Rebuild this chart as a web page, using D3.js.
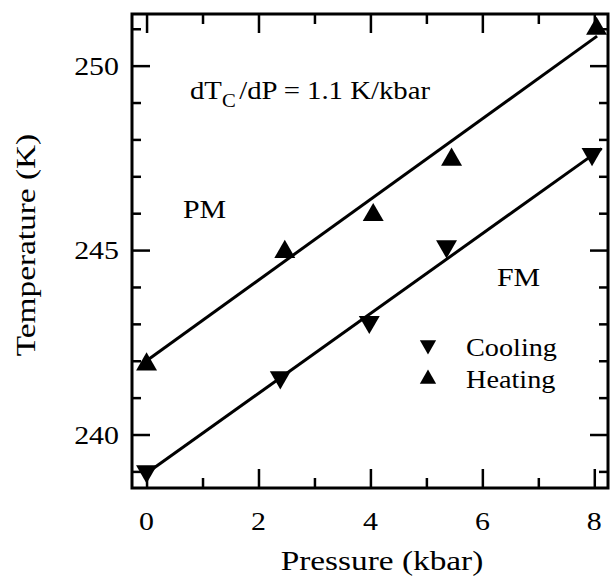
<!DOCTYPE html>
<html>
<head>
<meta charset="utf-8">
<script src="https://cdn.jsdelivr.net/npm/d3@7"></script>
<style>
  html, body { margin: 0; padding: 0; background: #fff; }
  svg { display: block; }
  text { font-family: "Liberation Serif", "Times New Roman", serif; fill: #000; }
</style>
</head>
<body>
<svg id="chart" width="613" height="576"></svg>
<script>
// ---- data ----
const heatP = [0, 2.47, 4.05, 5.45, 8.04];
const heatT = [241.9, 244.95, 245.95, 247.45, 251.0];
const coolP = [0, 2.39, 3.98, 5.36, 7.96];
const coolT = [239.0, 241.55, 243.05, 245.1, 247.6];
const heatFitP = [0, 8.05];
const heatFitT = [242.0, 250.8];
const coolFitP = [0, 8.13];
const coolFitT = [238.95, 247.75];
const xMajorTicks = [0, 2, 4, 6, 8];
const xMinorTicks = [1, 3, 5, 7];
const yMajorTicks = [240, 245, 250];
const yMinorTicks = [239, 241, 242, 243, 244, 246, 247, 248, 249, 251];
const xTitle = "Pressure (kbar)";
const yTitle = "Temperature (K)";
const legendLabels = ["Cooling", "Heating"];

// ---- layout ----
const L = 132, R = 608, T = 14, B = 488;
const svg = d3.select("#chart");
const x = d3.scaleLinear().domain([-0.26, 8.245]).range([L, R]);
const y = d3.scaleLinear().domain([238.55, 251.4]).range([B, T]);

function stext(g, px, py, str, size, stretch, anchor, rot) {
  return g.append("text")
    .attr("transform", `translate(${px},${py}) rotate(${rot || 0}) scale(${stretch},1)`)
    .attr("text-anchor", anchor || "start")
    .style("font-size", size + "px")
    .text(str);
}

// ---- axes (ticks inward on all four sides) ----
const tickW = 2.5;
function styleAxis(g) {
  g.select(".domain").remove();
  g.selectAll(".tick line").attr("stroke", "#000").attr("stroke-width", tickW);
}
// bottom
svg.append("g").attr("transform", `translate(0,${B})`)
  .call(d3.axisTop(x).tickValues(xMajorTicks).tickSize(19).tickFormat(""))
  .call(styleAxis);
svg.append("g").attr("transform", `translate(0,${B})`)
  .call(d3.axisTop(x).tickValues(xMinorTicks).tickSize(10).tickFormat(""))
  .call(styleAxis);
// top
svg.append("g").attr("transform", `translate(0,${T})`)
  .call(d3.axisBottom(x).tickValues(xMajorTicks).tickSize(19).tickFormat(""))
  .call(styleAxis);
svg.append("g").attr("transform", `translate(0,${T})`)
  .call(d3.axisBottom(x).tickValues(xMinorTicks).tickSize(10).tickFormat(""))
  .call(styleAxis);
// left
svg.append("g").attr("transform", `translate(${L},0)`)
  .call(d3.axisRight(y).tickValues(yMajorTicks).tickSize(18).tickFormat(""))
  .call(styleAxis);
svg.append("g").attr("transform", `translate(${L},0)`)
  .call(d3.axisRight(y).tickValues(yMinorTicks).tickSize(9).tickFormat(""))
  .call(styleAxis);
// right
svg.append("g").attr("transform", `translate(${R},0)`)
  .call(d3.axisLeft(y).tickValues(yMajorTicks).tickSize(18).tickFormat(""))
  .call(styleAxis);
svg.append("g").attr("transform", `translate(${R},0)`)
  .call(d3.axisLeft(y).tickValues(yMinorTicks).tickSize(9).tickFormat(""))
  .call(styleAxis);

// frame
svg.append("rect").attr("x", L).attr("y", T).attr("width", R - L).attr("height", B - T)
  .attr("fill", "none").attr("stroke", "#000").attr("stroke-width", 3);

// tick labels
const labels = svg.append("g");
xMajorTicks.forEach(v => stext(labels, x(v), 530, String(v), 26, 1.15, "middle"));
yMajorTicks.forEach(v => stext(labels, 119, y(v) + 9, String(v), 26, 1.15, "end"));

// axis titles
stext(svg, (L + R) / 2 + 12, 570, xTitle, 28, 1.19, "middle");
stext(svg, 35, 245, yTitle, 28, 1.19, "middle", -90);

// ---- fit lines ----
const line = d3.line().x(d => x(d[0])).y(d => y(d[1]));
svg.append("path").datum(d3.zip(heatFitP, heatFitT)).attr("d", line)
  .attr("fill", "none").attr("stroke", "#000").attr("stroke-width", 3);
svg.append("path").datum(d3.zip(coolFitP, coolFitT)).attr("d", line)
  .attr("fill", "none").attr("stroke", "#000").attr("stroke-width", 3);

// ---- markers ----
const triBig = d3.symbol().type(d3.symbolTriangle).size(190);
svg.append("g").selectAll("path").data(d3.zip(heatP, heatT)).join("path")
  .attr("d", triBig).attr("fill", "#000")
  .attr("transform", d => `translate(${x(d[0])},${y(d[1])})`);
svg.append("g").selectAll("path").data(d3.zip(coolP, coolT)).join("path")
  .attr("d", triBig).attr("fill", "#000")
  .attr("transform", d => `translate(${x(d[0])},${y(d[1])}) rotate(180)`);

// ---- annotations ----
const ann = svg.append("text")
  .attr("transform", `translate(190,99) scale(1.15,1)`)
  .style("font-size", "25px");
ann.append("tspan").text("dT");
ann.append("tspan").attr("dy", 8).style("font-size", "18px").text("C");
ann.append("tspan").attr("dy", -8).attr("dx", 3).text("/dP = 1.1 K/kbar");

stext(svg, 183, 218, "PM", 26, 1.15, "start");
stext(svg, 497, 286, "FM", 26, 1.15, "start");

// ---- legend ----
const triSmall = d3.symbol().type(d3.symbolTriangle).size(115);
svg.append("path").attr("d", triSmall).attr("fill", "#000")
  .attr("transform", `translate(428,345) rotate(180)`);
svg.append("path").attr("d", triSmall).attr("fill", "#000")
  .attr("transform", `translate(428,379)`);
stext(svg, 466, 356, legendLabels[0], 25, 1.13, "start");
stext(svg, 466, 388, legendLabels[1], 25, 1.13, "start");
</script>
</body>
</html>
